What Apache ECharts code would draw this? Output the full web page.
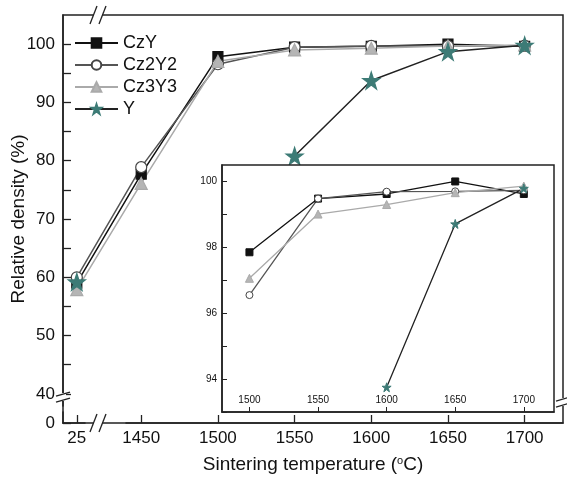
<!DOCTYPE html>
<html>
<head>
<meta charset="utf-8">
<script src="https://cdn.jsdelivr.net/npm/echarts@6/dist/echarts.min.js"></script>
<style>
html, body { margin: 0; padding: 0; background: #fff; }
#chart { width: 567px; height: 479px; }
</style>
</head>
<body>
<div id="chart"></div>
<script>
// sintering temperatures (oC), 25 = green body
const temps = [25, 1450, 1500, 1550, 1600, 1650, 1700]
const czY = [59.0, 77.7, 97.85, 99.48, 99.62, 100.0, 99.62]
const cz2Y2 = [60.0, 78.9, 96.55, 99.48, 99.69, 99.70, 99.73]
const cz3Y3 = [57.9, 76.1, 97.06, 99.01, 99.30, 99.66, 99.86]
const yOnly = [59.2, null, null, 80.8, 93.75, 98.71, 99.79]

const mainYLabels = [0, 40, 50, 60, 70, 80, 90, 100]
const mainYTicks = [0, 40, 45, 50, 55, 60, 65, 70, 75, 80, 85, 90, 95, 100]
const insetTemps = [1500, 1550, 1600, 1650, 1700]
const insetYLabels = [94, 96, 98, 100]
const insetYTicks = [93, 94, 95, 96, 97, 98, 99, 100]

const STAR = 'path://M50,0 L61.8,35.1 L98.9,35.1 L68.9,56.9 L80.3,92.1 L50,70.4 L19.7,92.1 L31.1,56.9 L1.1,35.1 L38.2,35.1 Z'
const FONT = 'Liberation Sans'
const plain = v => String(v)

function pairs(vals, from) {
    const out = []
    temps.forEach((t, i) => {
        if (i < (from || 0)) return
        out.push([t, vals[i] == null ? '-' : vals[i]])
    })
    return out
}

const styles = [
    { name: 'CzY', vals: czY, line: '#111', symbol: 'rect', fill: '#111', border: '#111', size: 10, isize: 7 },
    { name: 'Cz2Y2', vals: cz2Y2, line: '#555', symbol: 'circle', fill: '#fff', border: '#444', size: 11, isize: 7 },
    { name: 'Cz3Y3', vals: cz3Y3, line: '#aaa', symbol: 'triangle', fill: '#b5b5b5', border: '#aaa', size: 12, isize: 8 },
    { name: 'Y', vals: yOnly, line: '#222', symbol: STAR, fill: '#3d7b76', border: '#3d7b76', size: 17, isize: 9 }
]

const series = []
styles.forEach(s => {
    series.push({
        name: s.name,
        type: 'line',
        xAxisIndex: 0,
        yAxisIndex: 0,
        data: pairs(s.vals),
        symbol: s.symbol,
        symbolSize: s.size,
        lineStyle: { color: s.line, width: 1.5 },
        itemStyle: { color: s.fill, borderColor: s.border, borderWidth: 1.2 },
        z: 3
    })
})
styles.forEach(s => {
    series.push({
        name: s.name + ' inset',
        type: 'line',
        xAxisIndex: 1,
        yAxisIndex: 1,
        data: pairs(s.vals, 2).filter(p => p[1] === '-' || p[1] >= 93),
        symbol: s.symbol,
        symbolSize: s.isize,
        lineStyle: { color: s.line, width: 1.3 },
        itemStyle: { color: s.fill, borderColor: s.border, borderWidth: 1 },
        z: 20
    })
})

// little "//" break marks
function breakMark(x, y, horizontal) {
    const els = []
    if (horizontal) {
        els.push({ type: 'rect', shape: { x: x - 4, y: y - 3, width: 8, height: 6 }, style: { fill: '#fff' }, z: 50 })
        els.push({ type: 'line', shape: { x1: x - 8, y1: y + 9, x2: x - 1, y2: y - 9 }, style: { stroke: '#222', lineWidth: 1.3 }, z: 51 })
        els.push({ type: 'line', shape: { x1: x + 1, y1: y + 9, x2: x + 8, y2: y - 9 }, style: { stroke: '#222', lineWidth: 1.3 }, z: 51 })
    } else {
        els.push({ type: 'rect', shape: { x: x - 3, y: y - 4, width: 6, height: 8 }, style: { fill: '#fff' }, z: 50 })
        els.push({ type: 'line', shape: { x1: x - 7, y1: y - 1, x2: x + 7, y2: y - 5 }, style: { stroke: '#222', lineWidth: 1.3 }, z: 51 })
        els.push({ type: 'line', shape: { x1: x - 7, y1: y + 5, x2: x + 7, y2: y + 1 }, style: { stroke: '#222', lineWidth: 1.3 }, z: 51 })
    }
    return els
}

const chart = echarts.init(document.getElementById('chart'))
chart.setOption({
    backgroundColor: '#fff',
    animation: false,
    textStyle: { fontFamily: FONT },
    legend: {
        data: styles.map(s => s.name),
        orient: 'vertical',
        left: 69,
        top: 29,
        itemWidth: 43,
        itemHeight: 12,
        itemGap: 4,
        textStyle: { fontSize: 18, color: '#111', fontFamily: FONT }
    },
    grid: [
        { left: 63, top: 15, right: 4, bottom: 56, outerBoundsMode: 'none', show: true, borderColor: '#222', borderWidth: 1.5 },
        { left: 222, top: 165, width: 332, height: 247, outerBoundsMode: 'none', show: true, backgroundColor: '#fff', borderColor: '#222', borderWidth: 1.5, z: 10 }
    ],
    xAxis: [
        {
            type: 'value',
            gridIndex: 0,
            min: 16,
            max: 1725,
            breaks: [{ start: 30, end: 1440, gap: 27 }],
            breakArea: { show: false },
            name: 'Sintering temperature ({sup|o}C)',
            nameLocation: 'middle',
            nameGap: 32,
            nameMoveOverlap: false,
            nameTextStyle: {
                fontSize: 19, color: '#111',
                rich: { sup: { fontSize: 11, padding: [0, 0, 9, 0], color: '#111' } }
            },
            axisLine: { lineStyle: { color: '#222', width: 1.5 } },
            axisTick: { inside: true, length: 8, customValues: temps, lineStyle: { color: '#222', width: 1.3 } },
            axisLabel: { customValues: temps, formatter: plain, fontSize: 17, color: '#111', margin: 7 },
            splitLine: { show: false }
        },
        {
            type: 'value',
            gridIndex: 1,
            min: 1480,
            max: 1722,
            axisLine: { lineStyle: { color: '#222', width: 1.5 } },
            axisTick: { inside: true, length: 5, customValues: insetTemps, lineStyle: { color: '#222' } },
            axisLabel: { inside: true, customValues: insetTemps, formatter: plain, fontSize: 10, color: '#111', margin: 7, fontFamily: FONT },
            splitLine: { show: false },
            z: 11
        }
    ],
    yAxis: [
        {
            type: 'value',
            gridIndex: 0,
            min: 0,
            max: 105,
            breaks: [{ start: 2, end: 38, gap: 1 }],
            breakArea: { show: false },
            name: 'Relative density (%)',
            nameLocation: 'middle',
            nameGap: 35,
            nameMoveOverlap: false,
            nameTextStyle: { fontSize: 19, color: '#111' },
            axisLine: { lineStyle: { color: '#222', width: 1.5 } },
            axisTick: { inside: true, length: 8, customValues: mainYTicks, lineStyle: { color: '#222', width: 1.3 } },
            axisLabel: { customValues: mainYLabels, formatter: plain, fontSize: 17, color: '#111', margin: 8 },
            splitLine: { show: false }
        },
        {
            type: 'value',
            gridIndex: 1,
            min: 93,
            max: 100.5,
            axisLine: { lineStyle: { color: '#222', width: 1.5 } },
            axisTick: { inside: true, length: 5, customValues: insetYTicks, lineStyle: { color: '#222' } },
            axisLabel: { customValues: insetYLabels, formatter: plain, fontSize: 10, color: '#111', margin: 5, fontFamily: FONT },
            splitLine: { show: false },
            z: 11
        }
    ],
    graphic: [].concat(
        breakMark(98, 15, true),
        breakMark(98, 423, true),
        breakMark(63, 397, false),
        breakMark(563, 402, false)
    ),
    series: series
})
</script>
</body>
</html>
